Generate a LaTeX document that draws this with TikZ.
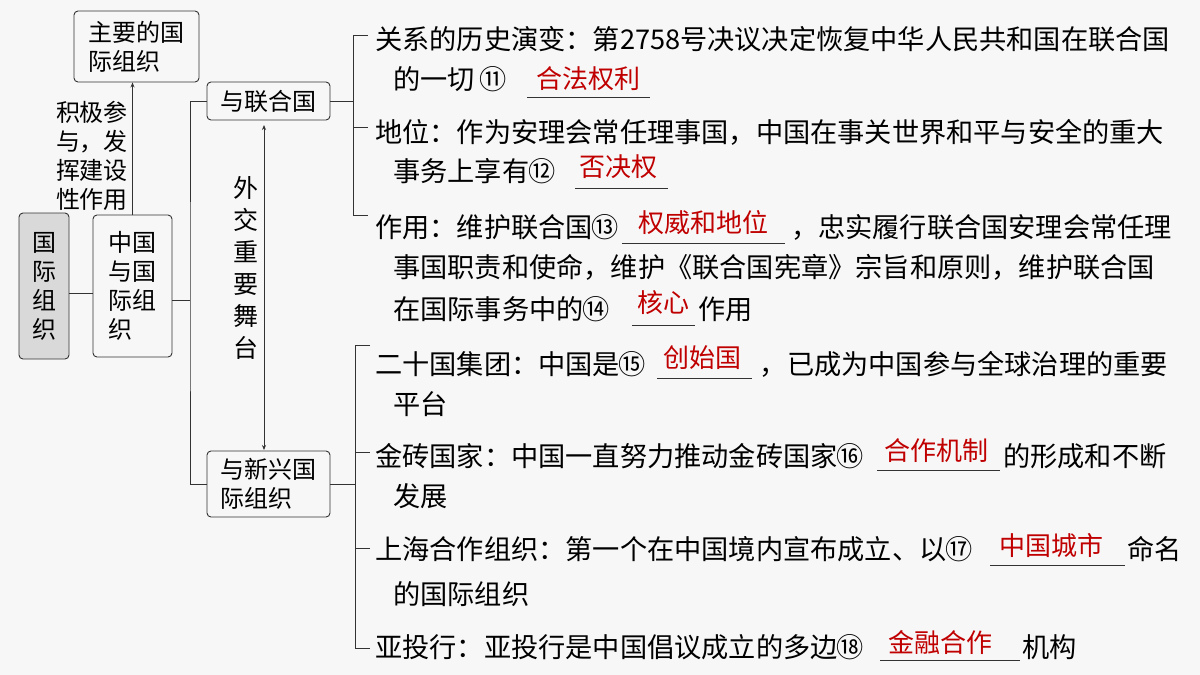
\documentclass[tikz,border=0pt]{standalone}
\usepackage{fontspec}
\setmainfont{Noto Sans CJK SC}
\usetikzlibrary{arrows.meta}
\definecolor{bg}{HTML}{F7F7F7}
\definecolor{ansred}{HTML}{C00000}
\definecolor{ln}{HTML}{333333}
\newcommand\cnum[1]{\makebox[25pt]{#1}}
\begin{document}
\begin{tikzpicture}[x=1pt,y=-1pt,
 box/.style={draw=ln,rounded corners=4pt,line width=0.9pt,inner sep=0pt,font=\fontsize{24}{29}\selectfont,align=left},
 txt/.style={inner sep=0pt,anchor=base west,font=\fontsize{27.2}{30}\selectfont},
 txe/.style={txt,anchor=base east},
 ans/.style={inner sep=0pt,anchor=base,text=ansred,font=\fontsize{26}{30}\selectfont},
 ul/.style={draw=ln,line width=0.8pt},
 con/.style={draw=ln,line width=0.8pt}]
\fill[bg] (0,0) rectangle (1200,675);
\useasboundingbox (0,0) rectangle (1200,675);
% left boxes
\node[box,minimum width=125pt,minimum height=71pt] (zy) at (136.5,46.5) {主要的国\\际组织};
\node[box,minimum width=123pt,minimum height=38pt] (ly) at (268.5,101) {与联合国};
\node[box,minimum width=123pt,minimum height=66pt] (xx) at (268.5,484) {与新兴国\\际组织};
\node[box,fill=black!15,minimum width=50pt,minimum height=146pt,align=center] (gj) at (44,286) {国\\际\\组\\织};
\node[box,minimum width=79pt,minimum height=142pt] (zg) at (132.5,286) {中国\\与国\\际组\\织};
\coordinate (j) at (190,300);
\draw[con] (gj.east|-0,293) -- (zg.west|-0,293);
\draw[con] (zg.east|-0,300) -- (j);
\draw[con] (ly.west) -| (j) |- (xx.west);
\draw[con,-{Stealth[length=5pt,width=4pt]}] (zg.north) -- (zg.north|-zy.south);
\node[inner sep=0pt,align=left,font=\fontsize{24}{29}\selectfont] (lb1) at (92,156) {积极参\\与，发\\挥建设\\性作用};
\draw[con,{Stealth[length=5pt,width=4pt]}-{Stealth[length=5pt,width=4pt]}] (264,125) coordinate (a1) -- (264,450) coordinate (a2);
\node[inner sep=0pt,align=center,font=\fontsize{25}{32}\selectfont] (lb2) at (246,268) {外\\交\\重\\要\\舞\\台};
% brackets
\coordinate (b1t) at (353,35); \coordinate (b1b) at (353,215);
\draw[con] (ly.east) -- (353,101);
\draw[con] (368,35) -- (b1t) -- (b1b) -- (368,215);
\draw[con] (353,127) -- (368,127);
\coordinate (b2t) at (355,345); \coordinate (b2b) at (355,648);
\draw[con] (xx.east) -- (355,484);
\draw[con] (370,345) -- (b2t) -- (b2b) -- (370,648);
\draw[con] (355,452) -- (370,452);
\draw[con] (355,548) -- (370,548);
% text
\node[txt] (t1) at (375,49) {关系的历史演变：第2758号决议决定恢复中华人民共和国在联合国};
\node[txt] (t2) at (393,89) {的一切 \cnum{⑪}};
\draw[ul] (527,97) -- (650,97); \node[ans] (a11) at (588,88) {合法权利};
\node[txt] (t3) at (375,142) {地位：作为安理会常任理事国，中国在事关世界和平与安全的重大};
\node[txt] (t4) at (393,181) {事务上享有\cnum{⑫}};
\draw[ul] (575,188) -- (668,188); \node[ans] (a12) at (618,176) {否决权};
\node[txt] (t5) at (375,237) {作用：维护联合国\cnum{⑬}};
\draw[ul] (622,243) -- (785,243); \node[ans] (a13) at (703,232) {权威和地位};
\node[txe] (t5b) at (1172,237) {，忠实履行联合国安理会常任理};
\node[txt] (t6) at (393,277) {事国职责和使命，维护《联合国宪章》宗旨和原则，维护联合国};
\node[txt] (t7) at (393,319) {在国际事务中的\cnum{⑭}};
\draw[ul] (632,325) -- (695,325); \node[ans] (a14) at (663,312) {核心};
\node[txt] (t7b) at (698,319) {作用};
\node[txt] (t8) at (375,374) {二十国集团：中国是\cnum{⑮}};
\draw[ul] (657,378) -- (752,378); \node[ans] (a15) at (702,367) {创始国};
\node[txe] (t8b) at (1168,374) {，已成为中国参与全球治理的重要};
\node[txt] (t9) at (393,414) {平台};
\node[txt] (t10) at (375,466) {金砖国家：中国一直努力推动金砖国家\cnum{⑯}};
\draw[ul] (877,470) -- (1000,470); \node[ans] (a16) at (936,460) {合作机制};
\node[txt] (t10b) at (1003,466) {的形成和不断};
\node[txt] (t11) at (393,506) {发展};
\node[txt] (t12) at (375,559) {上海合作组织：第一个在中国境内宣布成立、以\cnum{⑰}};
\draw[ul] (990,565) -- (1125,565); \node[ans] (a17) at (1051,555) {中国城市};
\node[txt] (t12b) at (1127,559) {命名};
\node[txt] (t13) at (393,604) {的国际组织};
\node[txt] (t14) at (375,657) {亚投行：亚投行是中国倡议成立的多边\cnum{⑱}};
\draw[ul] (880,660) -- (1020,660); \node[ans] (a18) at (940,652) {金融合作};
\node[txt] (t14b) at (1022,657) {机构};
\end{tikzpicture}
\end{document}
